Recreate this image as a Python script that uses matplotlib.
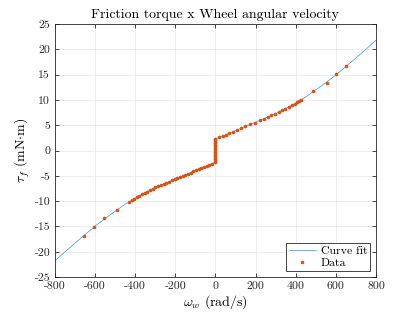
import numpy as np
import matplotlib
matplotlib.use("Agg")
import matplotlib.pyplot as plt

# fitted curve (odd in omega, jump at 0)
fit_w_pos = [0, 50, 100, 150, 200, 250, 300, 350, 400, 450, 500, 550, 600, 650, 700, 750, 800]
fit_tau_pos = [2.3, 3.1, 3.95, 4.8, 5.6, 6.45, 7.3, 8.3, 9.4, 10.6, 12.0, 13.4, 14.95, 16.6, 18.3, 20.0, 21.8]

# measured points
data_w_pos = [17.5, 36, 52, 69, 89, 109, 129, 149, 172, 195, 222, 242, 262, 278, 295,
              315, 332, 348, 365, 381, 395, 405, 415, 425, 488, 554, 601, 651]
data_tau_pos = [2.58, 2.88, 3.13, 3.42, 3.76, 4.1, 4.44, 4.78, 5.16, 5.52, 5.97, 6.31, 6.65,
                6.93, 7.22, 7.6, 7.95, 8.26, 8.62, 8.96, 9.29, 9.52, 9.76, 10.0, 11.7, 13.4, 15.1, 16.8]
data_w_neg = [-19, -32, -43, -57, -70, -83, -97, -110, -123, -137, -150, -163, -177, -190,
              -203, -218, -232, -245, -258, -272, -285, -300, -313, -326, -340, -353, -366,
              -380, -393, -405, -418, -430, -491, -554, -607, -654]
data_tau_neg = [-2.6, -2.82, -2.99, -3.22, -3.44, -3.66, -3.9, -4.12, -4.34, -4.58, -4.8, -5.0,
                -5.25, -5.43, -5.65, -5.9, -6.15, -6.37, -6.58, -6.82, -7.05, -7.3, -7.56, -7.84,
                -8.1, -8.36, -8.66, -8.96, -9.24, -9.52, -9.83, -10.12, -11.7, -13.4, -15.1, -16.8]
# stiction points sitting at omega ~ 0
data_w_zero = [0.0] * 16
data_tau_zero = [-2.3, -2.0, -1.7, -1.4, -1.1, -0.8, -0.5, -0.2, 0.2, 0.5, 0.8, 1.1, 1.4, 1.7, 2.0, 2.35]

xticks = [-800, -600, -400, -200, 0, 200, 400, 600, 800]
yticks = [-25, -20, -15, -10, -5, 0, 5, 10, 15, 20, 25]

plt.rcParams['font.family'] = 'serif'
plt.rcParams['font.serif'] = ['cmr10', 'DejaVu Serif']
plt.rcParams['mathtext.fontset'] = 'cm'
plt.rcParams['axes.unicode_minus'] = False
plt.rcParams['axes.formatter.use_mathtext'] = True

fit_w = [-w for w in fit_w_pos[::-1]] + fit_w_pos
fit_tau = [-t for t in fit_tau_pos[::-1]] + fit_tau_pos
data_w = data_w_neg[::-1] + data_w_zero + data_w_pos
data_tau = data_tau_neg[::-1] + data_tau_zero + data_tau_pos

fig = plt.figure(figsize=(4.15, 3.12), dpi=100)
ax = fig.add_axes([0.1325, 0.112, 0.7735, 0.811])

ax.plot(fit_w, fit_tau, color='#3d95d0', lw=0.5, label='Curve fit')
ax.plot(data_w, data_tau, ls='none', marker='o', ms=2.6, mew=0, color='#D95319', label='Data')

ax.set_xlim(-800, 800)
ax.set_ylim(-25, 25)
ax.set_xticks(xticks)
ax.set_yticks(yticks)
ax.set_xticklabels([str(t) for t in xticks])
ax.set_yticklabels([str(t) for t in yticks])
ax.grid(True, color='#ebebeb', lw=0.6)
ax.set_axisbelow(True)
ax.tick_params(direction='in', top=True, right=True, length=3, width=0.6,
               labelsize=8.5, colors='#262626')
for s in ax.spines.values():
    s.set_linewidth(0.6)
    s.set_color('#262626')

ax.set_title('Friction torque x Wheel angular velocity', fontsize=10, pad=4)
ax.set_xlabel(r'$\omega_w$ (rad/s)', fontsize=10, labelpad=1)
ax.set_ylabel(r'$\tau_f$ (mN$\cdot$m)', fontsize=10, labelpad=2)

leg = ax.legend(loc='lower right', fontsize=8.5, fancybox=False, framealpha=1,
                edgecolor='#262626', borderpad=0.25, labelspacing=0.15,
                handlelength=2.3, handletextpad=0.4, borderaxespad=0.5)
leg.get_frame().set_linewidth(0.6)

fig.savefig('out.png', dpi=100)
